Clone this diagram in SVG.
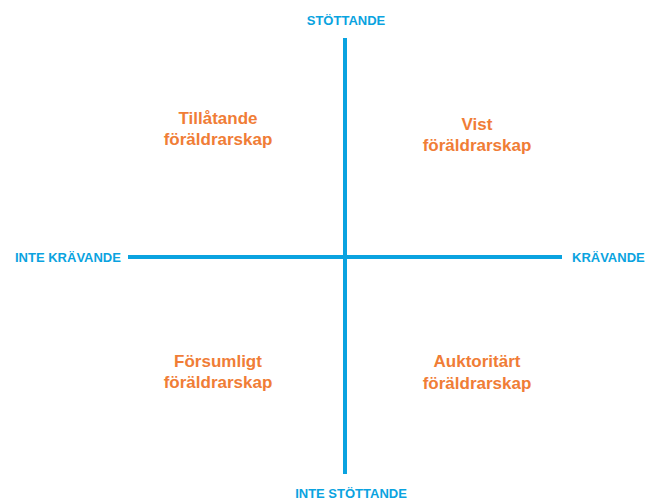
<svg xmlns="http://www.w3.org/2000/svg" width="657" height="502" viewBox="0 0 657 502">
<style>
.ax{stroke:#0aa3e0;stroke-width:4;fill:none}
.bl{fill:#0aa3e0;font-family:"Liberation Sans",Arial,sans-serif;font-weight:bold;font-size:13px}
.or{fill:#f07d36;font-family:"Liberation Sans",Arial,sans-serif;font-weight:bold;font-size:17px;text-anchor:middle}
</style>
<rect width="657" height="502" fill="#fff"/>
<g id="connectors">
<line class="ax" x1="345" y1="38" x2="345" y2="474"/>
<line class="ax" x1="128" y1="257" x2="562" y2="257"/>
</g>
<g id="top"><text class="bl" x="346" y="25" text-anchor="middle">STÖTTANDE</text></g>
<g id="bottom"><text class="bl" x="351" y="498" text-anchor="middle">INTE STÖTTANDE</text></g>
<g id="left"><text class="bl" x="15" y="262">INTE KRÄVANDE</text></g>
<g id="right"><text class="bl" x="572" y="262">KRÄVANDE</text></g>
<g id="q1"><text class="or" x="218" y="124">Tillåtande</text><text class="or" x="218" y="145">föräldrarskap</text></g>
<g id="q2"><text class="or" x="477" y="130">Vist</text><text class="or" x="477" y="151">föräldrarskap</text></g>
<g id="q3"><text class="or" x="218" y="367">Försumligt</text><text class="or" x="218" y="388">föräldrarskap</text></g>
<g id="q4"><text class="or" x="477" y="367">Auktoritärt</text><text class="or" x="477" y="389">föräldrarskap</text></g>
</svg>
